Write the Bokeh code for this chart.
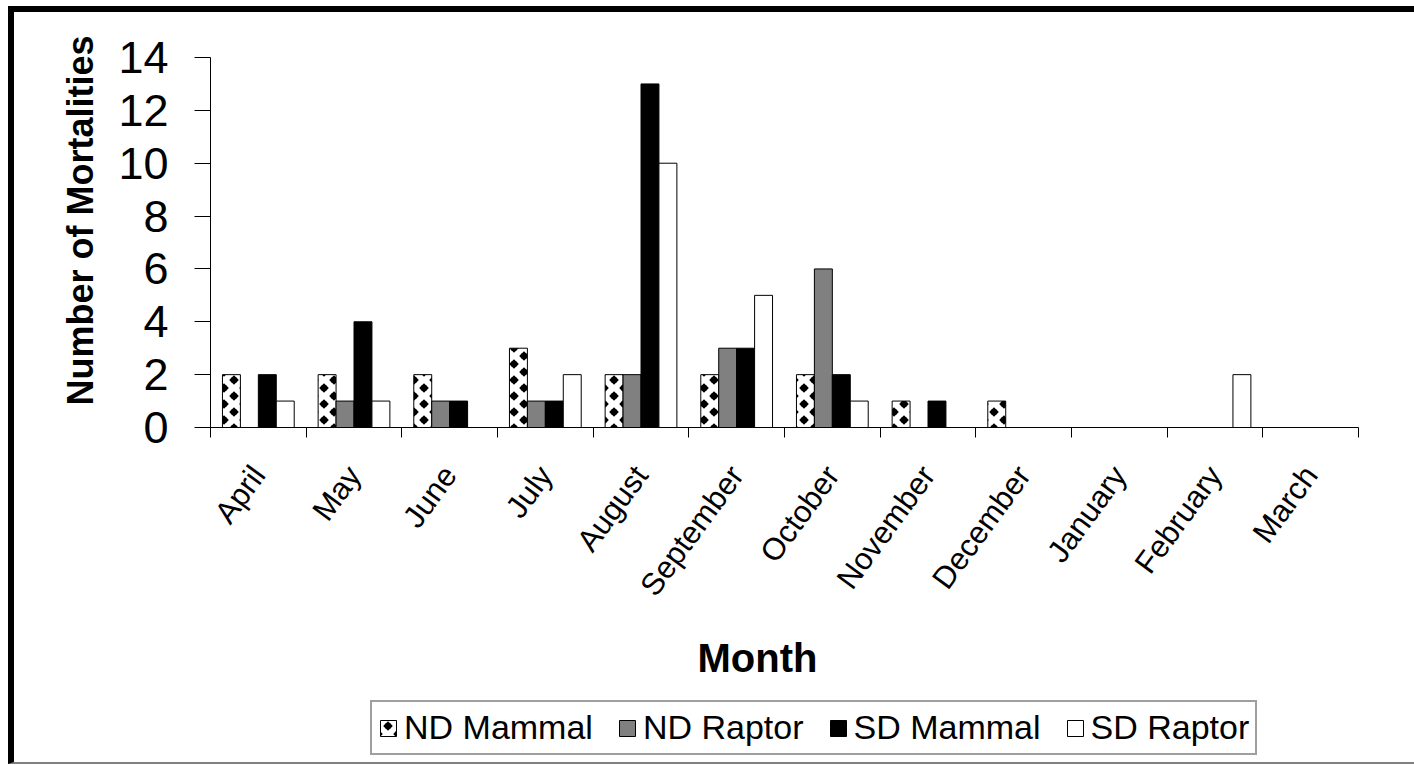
import base64
from bokeh.plotting import figure
from bokeh.layouts import column
from bokeh.models import (Range1d, FixedTicker, Title, Legend, LegendItem,
                          ImageURLTexture, ColumnDataSource)
from bokeh.core.properties import value
from bokeh.embed import file_html
from bokeh.resources import INLINE

months = ["April", "May", "June", "July", "August", "September", "October",
          "November", "December", "January", "February", "March"]
nd_mammal = [2, 2, 2, 3, 2, 2, 2, 1, 1, 0, 0, 0]
nd_raptor = [0, 1, 1, 1, 2, 3, 6, 0, 0, 0, 0, 0]
sd_mammal = [2, 4, 1, 1, 13, 3, 2, 1, 0, 0, 0, 0]
sd_raptor = [1, 1, 0, 2, 10, 5, 1, 0, 0, 0, 2, 0]
series_names = ["ND Mammal", "ND Raptor", "SD Mammal", "SD Raptor"]
y_ticks = [0, 2, 4, 6, 8, 10, 12, 14]

FONT = "Liberation Sans"

# staggered diamond texture for the "ND Mammal" bars
def diamond(cx, cy):
    r = 4.8
    pts = f"{cx-r},{cy} {cx},{cy-r} {cx+r},{cy} {cx},{cy+r}"
    return (f'<polygon points="{pts}" fill="black"/>'
            f'<circle cx="{cx}" cy="{cy}" r="3.3" fill="black"/>')

svg = ('<svg xmlns="http://www.w3.org/2000/svg" width="20" height="16">'
       '<rect width="20" height="16" fill="white"/>'
       + "".join(diamond(cx, cy) for cx, cy in [(10, 8), (0, 0), (20, 0), (0, 16), (20, 16)])
       + '</svg>')
tex_url = "data:image/svg+xml;base64," + base64.b64encode(svg.encode()).decode()

def texture():
    return ImageURLTexture(url=tex_url, repetition="repeat")

centers = [i + 0.5 for i in range(len(months))]
bw = 0.1875
offsets = [-1.5 * bw, -0.5 * bw, 0.5 * bw, 1.5 * bw]
values = [nd_mammal, nd_raptor, sd_mammal, sd_raptor]
fills = ["white", "#808080", "black", "white"]
sources = [ColumnDataSource(dict(x=[c + off for c in centers], top=vals))
           for vals, off in zip(values, offsets)]

def add_bars(fig):
    rs = []
    for k, (src, fc) in enumerate(zip(sources, fills)):
        kw = {}
        if k == 0:
            kw = dict(hatch_pattern=value("diam"), hatch_extra={"diam": texture()})
        rs.append(fig.vbar(x="x", top="top", bottom=0, width=bw, source=src,
                           fill_color=fc, line_color="black", line_width=1, **kw))
    return rs

p = figure(width=1400, height=688, output_backend="svg", toolbar_location=None,
           x_range=Range1d(0, 12), y_range=Range1d(0, 14))
p.min_border_left = 196
p.min_border_top = 45
p.min_border_right = 56
p.min_border_bottom = 273
p.outline_line_color = None
p.xgrid.visible = False
p.ygrid.visible = False
p.background_fill_color = "white"
p.border_fill_color = "white"
add_bars(p)

# axes
xa = p.xaxis[0]
xa.ticker = FixedTicker(ticks=centers, minor_ticks=list(range(13)))
xa.major_label_overrides = {c: m for c, m in zip(centers, months)}
xa.major_tick_out = 0
xa.major_tick_in = 0
xa.minor_tick_out = 10
xa.minor_tick_in = 0
xa.minor_tick_line_color = "black"
xa.axis_line_color = "black"
xa.major_label_orientation = 0.94
xa.major_label_text_font = FONT
xa.major_label_text_font_size = "31px"
xa.major_label_text_color = "black"
xa.major_label_standoff = 32

ya = p.yaxis[0]
ya.ticker = FixedTicker(ticks=y_ticks, minor_ticks=[])
ya.major_tick_out = 16
ya.major_tick_in = 0
ya.major_tick_line_color = "black"
ya.axis_line_color = "black"
ya.major_label_text_font = FONT
ya.major_label_text_font_size = "45px"
ya.major_label_text_color = "black"
ya.major_label_standoff = 26

p.add_layout(Title(text="Number of Mortalities", align="left", offset=22,
                   standoff=29, text_font=FONT, text_font_style="bold",
                   text_font_size="36px", text_color="black"), "left")
p.add_layout(Title(text="Month", align="left", offset=487, standoff=37,
                   text_font=FONT, text_font_style="bold",
                   text_font_size="40px", text_color="black"), "below")

# legend strip (separate canvas whose frame is aligned with the chart's frame)
q = figure(width=1400, height=62, output_backend="svg", toolbar_location=None,
           x_range=Range1d(0, 12), y_range=Range1d(100, 101))
q.min_border = 0
q.outline_line_color = None
q.axis.visible = False
q.grid.visible = False
q.background_fill_color = "white"
q.border_fill_color = "white"
leg_renderers = add_bars(q)

legend = Legend(items=[LegendItem(label=n, renderers=[r]) for n, r in zip(series_names, leg_renderers)],
                location=(160, 7), orientation="horizontal",
                label_text_font=FONT, label_text_font_size="34px",
                label_text_color="black", glyph_width=20, glyph_height=20,
                label_standoff=6, spacing=24, padding=6, margin=0,
                border_line_color="#404040", border_line_width=2,
                background_fill_color="white", background_fill_alpha=1)
q.add_layout(legend)

layout = column(p, q, spacing=0)
layout.margin = (6, 0, 0, 8)
layout.styles = {"border-left": "6px solid black", "border-top": "6px solid black",
                 "border-bottom": "2px solid #808080"}

open("out.html", "w").write(file_html(layout, INLINE))
